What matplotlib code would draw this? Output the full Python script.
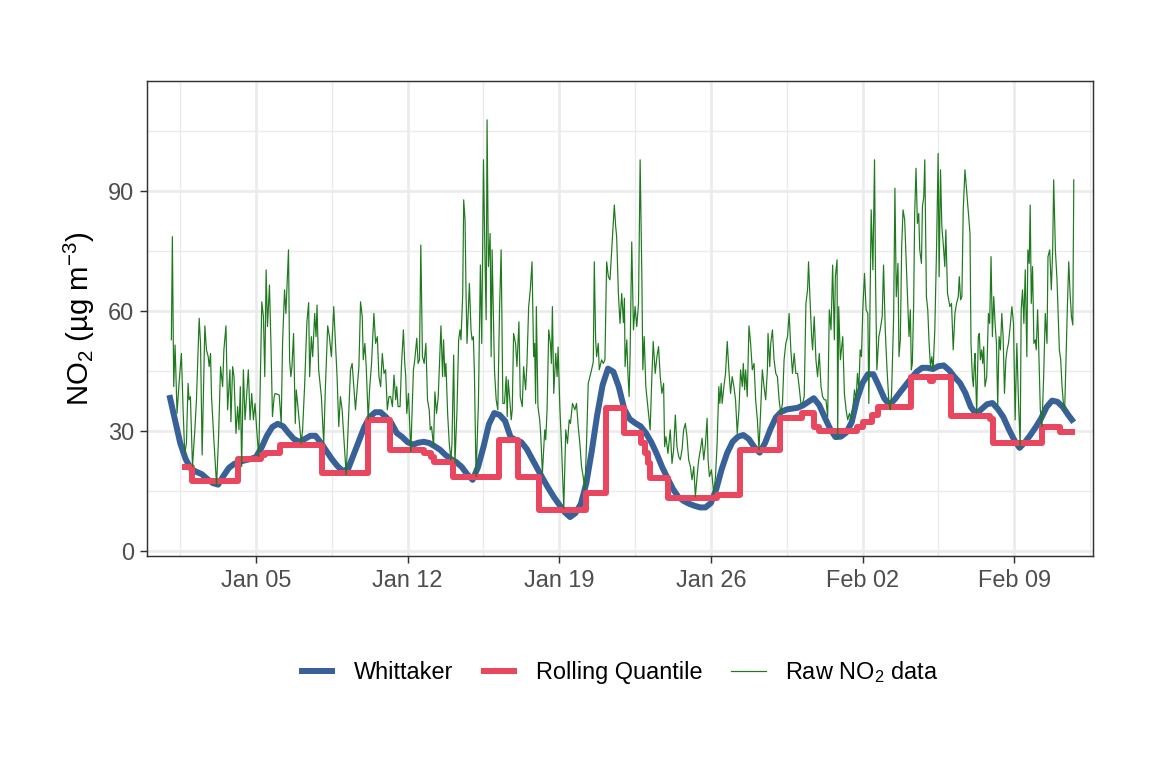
import numpy as np
import pandas as pd
import matplotlib
matplotlib.use("Agg")
import matplotlib.pyplot as plt

plt.rcParams["font.family"] = ["Liberation Sans", "DejaVu Sans"]
plt.rcParams["mathtext.fontset"] = "custom"
plt.rcParams["mathtext.rm"] = "Liberation Sans"
plt.rcParams["mathtext.it"] = "Liberation Sans:italic"

start = pd.Timestamp("2020-01-01")

# raw hourly NO2 (hours since Jan 01 00:00, value)
raw_hours = [
    2.2, 3.3, 4.8, 6.3, 8.5, 10.7, 13.3, 15.2, 17.0, 18.9, 20.7, 21.8, 23.3, 25.6, 28.2, 30.0,
    33.0, 34.5, 36.3, 39.3, 41.1, 43.0, 44.1, 45.6, 46.7, 49.3, 52.3, 54.5, 56.7, 59.0, 60.4,
    62.7, 64.5, 67.1, 68.2, 70.1, 71.6, 73.8, 75.6, 77.1, 78.6, 80.1, 82.0, 83.8, 85.7, 87.5,
    89.4, 91.2, 93.1, 94.9, 96.8, 99.0, 100.5, 102.4, 104.2, 105.7, 107.2, 108.7, 110.9, 112.7,
    114.2, 116.1,
    117.2, 121.7, 123.9, 125.4, 127.6, 129.1, 132.0, 133.2, 134.6, 135.8, 137.6, 139.5, 140.6,
    142.1, 143.9, 146.1, 147.6, 149.8, 152.4, 154.3, 155.4, 157.3, 158.8, 161.0, 162.5, 163.6,
    165.4, 168.4, 171.0, 172.9, 175.4, 177.3, 179.5, 182.1, 184.0, 185.8, 187.7, 189.5, 191.4,
    193.3, 195.9, 198.1, 200.7, 202.5, 206.2, 210.0, 211.8, 213.7, 214.8, 216.6, 218.1, 220.3,
    221.8, 224.0, 226.6, 228.5, 230.4, 232.2, 234.1, 235.9, 237.8, 239.6, 241.5, 243.3,
    245.2, 247.1, 248.9, 250.8, 251.9, 253.4, 255.6, 257.1, 259.3, 260.8, 261.9, 263.0, 264.9,
    267.5, 270.4, 271.9, 274.1, 275.6, 277.1, 278.6, 280.4, 282.3, 284.2, 286.0, 287.9, 289.0,
    290.5, 292.7, 294.2, 296.0, 297.9, 300.9, 302.7, 303.8, 305.3, 306.4, 308.3, 310.1, 312.0,
    313.1, 315.0, 316.4, 318.7, 320.5, 322.0, 323.1, 325.0, 326.1, 327.6, 328.7, 329.8, 332.4,
    334.2, 335.4, 336.8, 338.0, 339.8, 342.4, 344.6, 346.1, 348.0, 349.8, 351.0, 352.0, 353.5,
    355.4, 356.5, 357.6, 360.2, 362.1, 363.9, 365.8, 367.6, 369.5, 371.3,
    373.2, 374.3, 375.4, 376.9, 378.8, 379.9, 381.4, 383.6, 385.1, 387.3, 388.8, 391.0, 392.5,
    394.7, 396.2, 398.1, 399.9, 401.8, 403.6, 404.7, 405.8, 406.6, 408.4, 410.3, 411.4, 413.3,
    415.9, 417.0, 418.5, 420.3, 422.2, 423.3, 424.4, 425.9, 428.1, 429.6, 430.7, 432.6, 434.4,
    437.0, 439.2, 441.1, 443.0, 444.4, 446.7, 449.3, 451.1, 453.0, 454.8, 456.7, 458.5, 460.4,
    462.2, 464.1, 466.0, 467.8, 469.7, 470.8, 472.3, 473.4, 475.2, 476.3, 478.9, 480.8, 482.6,
    484.5, 486.4, 488.2, 490.1, 491.9, 493.0, 494.5, 495.6, 497.5, 499.3,
    501.2, 503.1, 504.2, 504.9, 506.8, 507.9, 509.4, 510.5, 512.3, 514.2, 516.0, 517.9, 519.8,
    521.6, 523.5, 524.6, 526.1, 527.9, 530.1, 532.7, 534.6, 536.1, 538.3, 540.2, 542.0, 543.9,
    545.7, 547.6, 548.7, 550.2, 552.4, 555.0, 556.9, 558.7, 560.6, 562.4, 564.3, 566.1, 568.0,
    569.8, 571.7, 573.5, 575.4, 577.3, 579.1, 581.0, 582.8, 584.7, 586.5, 588.4, 590.2, 592.1,
    594.0, 595.8, 596.9, 598.4, 600.6, 603.2, 605.1, 606.9, 608.8, 609.9, 611.4, 612.5, 614.4,
    616.2, 618.1, 619.9, 621.8, 623.6, 625.5, 627.3,
    629.2, 631.1, 632.9, 634.8, 635.9, 637.4, 638.5, 640.3, 642.2, 644.0, 645.9, 647.8, 649.6,
    651.5, 653.3, 655.2, 657.0, 658.9, 660.7, 662.6, 663.3, 665.2, 666.3, 668.2, 670.0, 671.9,
    673.7, 675.6, 677.4, 679.3, 681.1, 683.0, 684.9, 686.7, 688.6, 690.4, 692.3, 694.1, 696.0,
    697.8, 699.7, 701.6, 703.4, 705.3, 707.1, 708.2, 709.7, 711.6, 712.7, 714.5, 716.4, 718.2,
    720.1, 722.0, 723.8, 725.7, 727.5, 729.4, 731.2, 733.1, 734.9, 736.8, 737.9, 739.8, 740.5,
    741.6, 743.5, 746.1, 747.9, 749.8, 751.6, 753.5, 755.3,
    757.2, 759.1, 760.9, 762.4, 763.9, 765.4, 766.8, 768.3, 770.2, 772.0, 773.9, 775.0, 776.5,
    777.6, 779.5, 781.3, 782.4, 783.9, 786.1, 787.6, 789.8, 791.3, 793.2, 795.0, 797.3, 798.8,
    800.2, 802.5, 803.9, 805.4, 807.3, 808.4, 809.9, 811.4, 812.9, 814.7, 816.6, 818.4, 819.5,
    821.0, 822.1, 823.2, 824.7, 825.8, 827.3, 828.8, 830.3, 831.4, 833.3, 834.4, 835.9, 837.0,
    838.8, 840.3, 841.8, 843.3, 844.8, 846.2, 848.1, 850.0, 851.8, 852.9, 854.4, 855.9, 857.4,
    859.2, 860.3, 862.2, 864.8, 866.6, 868.5, 870.4, 872.2, 874.1, 875.2, 876.7, 878.1, 879.6,
    881.5, 883.3,
    887.1, 888.2, 889.7, 890.8, 891.9, 892.6, 894.5, 896.3, 897.4, 898.6, 900.0, 901.2, 902.3,
    903.7, 905.6, 907.5, 908.9, 910.4, 911.9, 913.4, 914.9, 916.4, 917.8, 919.3, 920.8, 922.3,
    923.8, 925.3, 926.8, 928.2, 929.7, 931.6, 933.5, 935.3, 937.1, 939.0, 940.9, 942.7, 943.8,
    945.3, 946.8, 948.3, 950.1, 951.2, 952.7, 953.8, 955.0, 956.4, 957.9, 959.4, 960.5, 962.0,
    963.1, 965.0, 966.8, 968.7, 970.5, 972.4, 973.5, 975.4, 977.2, 978.7, 979.8, 981.7, 983.5,
    984.6, 986.1, 987.6, 989.1, 990.6, 992.0, 993.5, 995.0, 996.5, 998.0, 999.5, 1001.0, 1002.1,
]
raw_no2 = [
    52.8, 78.6, 41.1, 51.5, 34.4, 41.9, 49.4, 35.3, 24.4, 26.9, 41.9, 37.8, 38.6, 21.1, 30.3, 37.8,
    58.2, 51.9, 24.0, 56.3, 50.3, 48.6, 46.1, 49.4, 38.6, 27.8, 16.5, 28.6, 46.1, 41.1, 50.3,
    56.3, 35.3, 45.3, 32.3, 46.1, 43.6, 29.4, 36.1, 30.3, 41.1, 21.1, 45.3, 32.8, 39.4, 45.3,
    32.8, 39.4, 32.8, 36.9, 30.3, 23.6, 39.4, 62.3, 58.6, 43.6, 70.3, 56.1, 66.5, 50.3,
    33.6, 38.6,
    39.4, 39.0, 31.9, 51.9, 65.3, 59.4, 75.3, 47.8, 43.6, 46.1, 54.4, 31.9, 40.3,
    36.9, 32.3, 26.9, 30.3, 41.1, 57.3, 62.1, 43.6, 53.6, 48.6, 59.4, 53.6, 61.5,
    45.3, 38.6, 26.9, 41.1, 56.3, 53.6, 48.6, 61.1, 51.9, 43.6, 31.1, 38.6, 35.3,
    28.6, 19.0, 31.1, 45.3, 46.9, 35.3, 46.1, 62.3, 58.6, 47.8, 51.9, 46.1, 32.8,
    40.3, 46.9, 59.4, 51.9, 53.6, 43.6, 41.1, 49.4, 44.4, 45.3, 35.3, 38.6,
    38.6, 36.1, 44.0, 37.8, 41.1, 36.1, 36.1, 46.1, 55.3, 46.9, 43.6, 34.4, 39.4,
    24.8, 45.3, 47.8, 53.2, 46.9, 47.8, 76.5, 48.6, 46.9, 51.9, 37.8, 35.3, 30.3,
    31.1, 26.1, 39.8, 34.4, 38.6, 56.3, 43.6, 52.8, 43.6, 46.9, 34.4, 26.9, 22.8,
    26.9, 49.0, 21.9, 35.3, 52.8, 55.3, 52.8, 64.0, 87.8, 82.8, 64.4, 51.9, 66.9,
    55.3, 52.8, 53.6, 44.4, 18.6, 36.9, 71.5, 51.9, 97.8, 71.9, 57.8, 107.8, 71.1,
    79.4, 48.6, 75.3, 45.3, 37.8, 35.3, 60.3, 75.3, 36.9, 36.9,
    43.6, 33.6, 42.8, 38.6, 32.8, 35.3, 54.4, 51.9, 46.1, 57.3, 38.6, 36.1, 46.1,
    40.3, 46.9, 61.1, 65.3, 72.3, 48.6, 51.9, 36.9, 61.1, 36.1, 32.8, 29.4, 19.4,
    30.3, 27.8, 35.3, 55.3, 51.9, 46.9, 61.1, 39.4, 49.4, 43.6, 51.0, 36.1, 26.9,
    10.7, 30.3, 26.9, 32.8, 31.9, 36.9, 35.3, 36.9, 31.1, 26.9, 21.1, 18.6, 15.3,
    26.9, 41.9, 43.6, 45.3, 47.3, 72.3, 52.8, 48.6, 51.9, 45.3, 47.8, 46.9, 47.8,
    72.3, 68.6, 67.8, 75.3, 82.8, 86.5, 81.1, 78.6, 64.4, 56.9,
    64.4, 57.1, 63.2, 46.1, 52.8, 45.3, 38.6, 49.4, 77.3, 55.3, 61.1, 56.1, 61.9,
    97.8, 68.6, 45.3, 53.6, 41.1, 36.1, 30.3, 43.6, 52.4, 44.4, 48.6, 51.1, 43.6,
    39.4, 41.9, 26.1, 28.6, 24.4, 30.3, 21.9, 25.3, 34.0, 26.1, 23.6, 22.8, 25.3,
    30.3, 31.9, 28.6, 22.8, 21.1, 17.8, 21.1, 13.6, 18.6, 22.8, 25.3, 28.2, 22.8,
    26.9, 33.2, 22.8, 18.6, 20.3, 14.4, 18.6, 26.9, 41.1, 36.9, 41.9, 36.9, 41.1,
    44.4, 52.4, 45.3, 39.4, 43.6, 41.1, 37.8,
    29.4, 35.3, 45.3, 41.1, 46.9, 40.3, 45.3, 38.6, 56.3, 51.9, 45.3, 46.9, 37.8,
    32.8, 25.3, 35.3, 45.3, 41.1, 37.8, 45.3, 54.4, 46.1, 51.9, 55.3, 47.8, 44.4,
    43.6, 37.8, 34.4, 36.9, 47.8, 51.9, 53.6, 59.4, 50.3, 44.4, 49.4, 44.4, 44.4,
    41.1, 36.9, 36.9, 38.6, 61.9, 65.3, 72.3, 63.6, 53.6, 50.3, 58.6, 47.8, 43.6,
    49.4, 41.1, 38.6, 37.8, 37.8, 33.6, 60.3, 55.3, 71.5, 52.8, 68.6, 72.8, 28.2,
    61.1, 47.8, 53.6, 39.4, 35.3, 32.8, 34.4, 32.8,
    35.3, 40.3, 37.8, 44.4, 40.3, 50.3, 48.6, 60.3, 69.4, 60.3, 59.4, 36.9, 63.6,
    85.3, 70.3, 97.8, 68.6, 45.3, 53.6, 55.3, 58.6, 71.5, 55.3, 46.1, 36.9, 35.3,
    39.4, 58.6, 90.7, 63.6, 71.9, 48.6, 52.8, 76.1, 85.3, 82.8, 71.1, 60.3, 53.6,
    60.3, 45.3, 46.9, 61.9, 84.4, 95.7, 81.9, 84.4, 75.3, 71.9, 86.1, 88.6, 97.8,
    63.6, 60.3, 51.9, 46.1, 48.6, 45.3, 55.3, 75.3, 99.4, 68.6, 95.3, 81.1, 76.9,
    71.1, 80.3, 64.4, 61.1, 61.9, 50.3, 59.4, 61.9, 63.6, 68.6, 62.8, 63.6, 85.3,
    95.3, 90.3,
    79.4, 51.9, 43.6, 41.1, 46.9, 49.4, 34.4, 53.6, 54.4, 47.8, 50.3, 46.9, 51.1,
    41.1, 43.6, 59.4, 56.9, 73.6, 53.6, 63.6, 56.9, 51.9, 36.1, 53.6, 50.3, 59.4,
    53.6, 39.4, 47.8, 50.3, 51.9, 56.1, 61.1, 56.9, 32.8, 51.9, 36.9, 26.1, 60.3,
    65.3, 56.9, 70.3, 48.6, 75.3, 71.9, 86.5, 61.9, 71.1, 51.9, 52.8, 50.3, 60.3,
    51.9, 35.3, 31.1, 43.6, 59.4, 51.9, 73.6, 75.3, 65.3, 75.3, 92.8, 75.3, 67.8,
    60.3, 50.3, 47.8, 41.1, 36.9, 35.3, 48.6, 61.1, 72.3, 64.4, 58.6, 56.5, 92.8,
]

# Whittaker smoothed baseline, one value every 6 hours from Jan 01 00:00
whit_step_h = 6
whit_no2 = [
    39, 33, 27, 23, 20.5, 19.8, 19.2, 18, 17, 16.6, 18.8, 20.8,
    21.8, 22.3, 22.7, 23, 23.5, 25.8, 28.8, 31, 31.8, 31.2, 29.5, 28,
    27.3, 28, 28.8, 28.8, 27, 25, 23, 21.3, 20, 20.5, 24, 27.5,
    31, 33.5, 34.7, 34.7, 33.5, 32, 29.5, 28.5, 27.2, 26.6, 27.1, 27.3,
    27, 26.2, 25.3, 24, 23, 22.2, 21, 19.2, 17.8, 21, 26, 31.7,
    34.5, 34, 32.5, 28.5, 27.7, 27.2, 25.5, 23, 20.5, 18, 15.7, 13.5,
    11.6, 9.7, 8.5, 9.5, 11.8, 17, 25, 34, 41.5, 45.6, 44.8, 41,
    35.5, 33, 32, 31.2, 29.5, 27.2, 24.3, 21, 18.2, 15.5, 13.5, 12.5,
    11.8, 11.3, 10.9, 10.9, 12, 15.5, 20.5, 24.5, 27.3, 28.6, 29, 28,
    26, 24.6, 27, 30.5, 33.4, 34.8, 35.4, 35.6, 35.8, 36.4, 37.3, 38.2,
    36.5, 33.5, 30.6, 28.5, 28.6, 29.6, 32.2, 38, 42, 44.2, 44.2, 41.3,
    38.2, 36.5, 38, 39.8, 41.5, 43.2, 44.8, 45.8, 45.8, 45.5, 46.2, 46.4,
    45.2, 43.5, 42, 39.5, 36, 34.2, 35.5, 36.7, 37, 35.5, 33.5, 30.5,
    27.8, 25.8, 27.2, 29, 31, 33.2, 36, 37.6, 37.3, 36, 34, 32.2,
]

# rolling quantile: hour where each level starts, and the level
rq_hours = [14, 25, 76, 101, 106, 123, 169, 220, 245, 282, 290, 293, 314, 365, 386, 410,
            462, 484, 504, 523, 527, 530, 532, 553, 607, 632, 677, 701, 714, 720, 762, 768,
            779, 785, 822, 843, 846, 866, 909, 913, 967, 987, 1003]
rq_no2 = [21, 17.5, 23, 24, 24.5, 26.5, 19.5, 32.75, 25.3, 24.5, 23.5, 22.2, 18.5, 27.75, 18.5,
          10.25, 14.5, 35.75, 29.5, 27, 24.5, 22, 18.25, 13.25, 14, 25.25, 33.25, 34.5, 31, 30,
          31, 32.25, 34, 36, 43.5, 42.6, 43.5, 33.75, 33, 27, 31, 29.75, 29.75]

raw_t = start + pd.to_timedelta(raw_hours, unit="h")
whit_t = start + pd.to_timedelta(np.arange(len(whit_no2)) * whit_step_h, unit="h")
rq_t = start + pd.to_timedelta(rq_hours, unit="h")

fig, ax = plt.subplots(figsize=(6, 4), dpi=192)
fig.subplots_adjust(left=0.1276, right=0.9488, bottom=0.276, top=0.8945)

l1, = ax.plot(whit_t, whit_no2, color="#386198", lw=2.25, solid_capstyle="butt",
              solid_joinstyle="round", label="Whittaker")
l2, = ax.plot(rq_t, rq_no2, color="#E8475F", lw=2.25, drawstyle="steps-post",
              solid_capstyle="butt", label="Rolling Quantile")
l3, = ax.plot(raw_t, raw_no2, color="#1F7A1F", lw=0.45, label=r"Raw NO$_\mathregular{2}$ data")

ax.set_xlim(start + pd.Timedelta(hours=-24.8), start + pd.Timedelta(hours=1023.4))
ax.set_ylim(-1.25, 117.5)

major = pd.date_range("2020-01-05", periods=6, freq="7D")
minor = pd.date_range("2020-01-01 12:00", periods=7, freq="7D")
ax.set_xticks(major)
ax.set_xticklabels([d.strftime("%b %d") for d in major])
ax.set_xticks(minor, minor=True)
ax.set_yticks([0, 30, 60, 90])
ax.set_yticks([15, 45, 75, 105], minor=True)

ax.grid(which="major", color="#EBEBEB", lw=1.0)
ax.grid(which="minor", color="#EBEBEB", lw=0.5)
ax.set_axisbelow(True)
for s in ax.spines.values():
    s.set_color("#333333")
    s.set_linewidth(0.55)
ax.tick_params(which="major", length=2.75, width=0.55, color="#333333",
               labelcolor="#4D4D4D", labelsize=8.8, pad=2.2)
ax.tick_params(which="minor", length=0)

ax.set_ylabel(r"NO$_\mathregular{2}$ (µg m$^{\mathregular{-3}}$)", fontsize=11)
ax.yaxis.set_label_coords(-0.053, 0.5)

fig.legend([l1, l2, l3], [l1.get_label(), l2.get_label(), l3.get_label()],
           loc="center", bbox_to_anchor=(0.537, 0.125), ncol=3, frameon=False,
           fontsize=8.8, handlelength=1.53, handletextpad=0.8, columnspacing=1.2)

fig.savefig("out.png", dpi=192)
